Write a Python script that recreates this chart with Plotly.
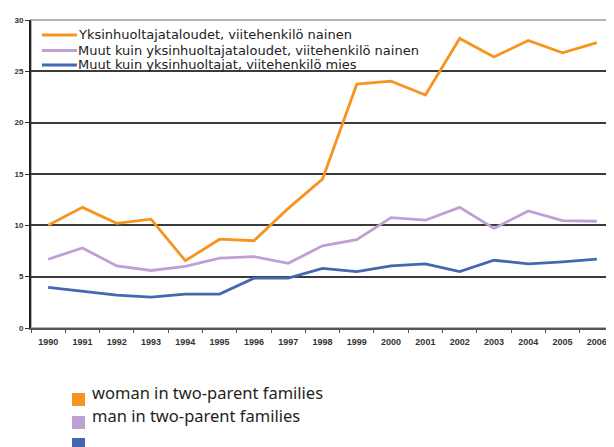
import plotly.graph_objects as go

years = [str(y) for y in range(1990, 2007)]
single_women = [10.0, 11.75, 10.2, 10.6, 6.55, 8.65, 8.5, 11.65, 14.5, 23.75, 24.05, 22.7, 28.2, 26.4, 28.0, 26.8, 27.8]
other_women = [6.7, 7.8, 6.05, 5.6, 6.0, 6.8, 6.95, 6.3, 8.0, 8.6, 10.75, 10.5, 11.75, 9.7, 11.4, 10.45, 10.4]
other_men = [3.95, 3.55, 3.2, 3.0, 3.3, 3.3, 4.85, 4.85, 5.8, 5.5, 6.05, 6.25, 5.5, 6.6, 6.25, 6.45, 6.7]

names = [
    "Yksinhuoltajataloudet, viitehenkilö nainen",
    "Muut kuin yksinhuoltajataloudet, viitehenkilö nainen",
    "Muut kuin yksinhuoltajat, viitehenkilö mies",
]
colors = ["#F7941E", "#BFA0D2", "#4566B2"]
bottom_labels = ["woman in two-parent families", "man in two-parent families", ""]
y_ticks = [0, 5, 10, 15, 20, 25, 30]

# page has an 8px body margin; figure is sized so the plot area lands at page px 31..614 x 20..328
OFF = 8
W, H = 614 - OFF, 447 - OFF
L, R, T, B = 31 - OFF, 0, 20 - OFF, 447 - 328
PW, PH = W - L - R, H - T - B

def px(x):
    return (x - OFF - L) / PW

def py(y):
    return (H - B - (y - OFF)) / PH

fig = go.Figure()
for vals, name, col in zip([single_women, other_women, other_men], names, colors):
    fig.add_trace(go.Scatter(x=years, y=vals, name=name, mode="lines",
                             line=dict(color=col, width=2.8), showlegend=False))

shapes = []
shapes.append(dict(type="rect", xref="paper", yref="paper", x0=0, x1=1, y0=0, y1=1,
                   line=dict(color="#b5b5b5", width=2), layer="below"))
shapes.append(dict(type="rect", xref="paper", yref="paper", x0=px(32), x1=px(426), y0=py(22), y1=py(73),
                   fillcolor="white", line=dict(width=0), layer="between"))
annotations = []
leg_y = [35, 50.5, 65]
for i, (name, col) in enumerate(zip(names, colors)):
    shapes.append(dict(type="line", xref="paper", yref="paper", x0=px(42), x1=px(77),
                       y0=py(leg_y[i]), y1=py(leg_y[i]), line=dict(color=col, width=3)))
    annotations.append(dict(xref="paper", yref="paper", x=px(76), y=py(leg_y[i]), text=name,
                            showarrow=False, xanchor="left", yanchor="middle",
                            font=dict(family="DejaVu Sans", size=13, color="#222")))

sq_y = [393, 416, 438]
for i, (lab, col) in enumerate(zip(bottom_labels, colors)):
    shapes.append(dict(type="rect", xref="paper", yref="paper", x0=px(72), x1=px(85),
                       y0=py(sq_y[i]), y1=py(sq_y[i] + 13), fillcolor=col, line=dict(width=0)))
    if lab:
        annotations.append(dict(xref="paper", yref="paper", x=px(90), y=py(sq_y[i] - 1), text=lab,
                                showarrow=False, xanchor="left", yanchor="middle",
                                font=dict(family="Noto Sans", size=16.5, color="#231f20")))

fig.update_layout(
    width=W, height=H,
    margin=dict(l=L, r=R, t=T, b=B),
    paper_bgcolor="white", plot_bgcolor="white",
    shapes=shapes, annotations=annotations,
    showlegend=False,
)
fig.update_xaxes(type="category", range=[-0.5, len(years) - 0.5], tickson="boundaries",
                 ticks="outside", ticklen=3, ticklabelstandoff=4,
                 tickcolor="#555", showline=True, linecolor="#555", linewidth=2,
                 showgrid=False, tickfont=dict(family="Liberation Sans, Arial", size=9, color="#333", weight="bold"))
fig.update_yaxes(range=[0, 30], tickvals=y_ticks, ticks="outside", ticklen=4, tickcolor="#333",
                 showline=True, linecolor="#222", linewidth=2, zeroline=False,
                 showgrid=True, gridcolor="#3a3a3a", gridwidth=2,
                 tickfont=dict(family="Liberation Sans, Arial", size=8, color="#333", weight="bold"))

fig.write_html("out.html")
